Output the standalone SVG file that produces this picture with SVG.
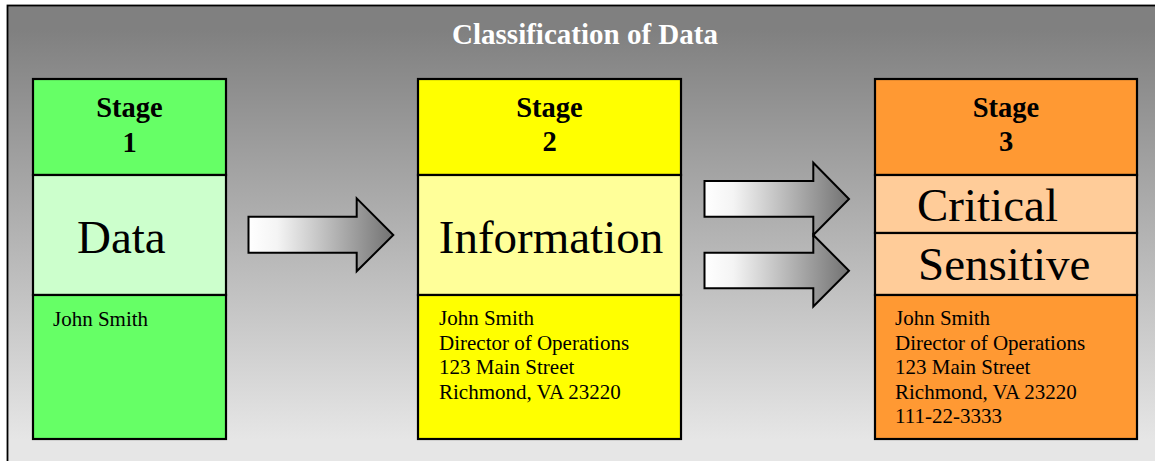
<svg xmlns="http://www.w3.org/2000/svg" width="1155" height="461" viewBox="0 0 1155 461">
<style>
.box{stroke:#000;stroke-width:2.2}
.stage{font-family:"Liberation Serif","Times New Roman",serif;font-weight:bold;font-size:28.5px;fill:#000;text-anchor:middle}
.big{font-family:"Liberation Serif","Times New Roman",serif;font-size:47px;fill:#000}
.small{font-family:"Liberation Serif","Times New Roman",serif;font-size:21px;fill:#000}
.title{font-family:"Liberation Serif","Times New Roman",serif;font-weight:bold;font-size:29px;fill:#fff;text-anchor:middle}
.arrow{fill:url(#arrowGrad);stroke:#000;stroke-width:2;stroke-linejoin:miter}
</style>
<defs>
<linearGradient id="bgGrad" gradientUnits="userSpaceOnUse" x1="0" y1="30" x2="0" y2="440">
<stop offset="0" stop-color="#808080"/>
<stop offset="1" stop-color="#e6e6e6"/>
</linearGradient>
<linearGradient id="arrowGrad" x1="0" y1="0" x2="1" y2="0">
<stop offset="0" stop-color="#ffffff"/>
<stop offset="0.2" stop-color="#f4f4f4"/>
<stop offset="1" stop-color="#727272"/>
</linearGradient>
</defs>
<rect x="0" y="0" width="1155" height="461" fill="#ffffff"/>
<rect id="frame" x="7.5" y="5.5" width="1160" height="470" fill="url(#bgGrad)" stroke="#000" stroke-width="1.8"/>
<g id="title">
<text class="title" x="585" y="44">Classification of Data</text>
</g>
<g id="stage1">
<rect class="box" x="33" y="79" width="193" height="96" fill="#66ff66"/>
<rect class="box" x="33" y="175" width="193" height="120" fill="#ccffcc"/>
<rect class="box" x="33" y="295" width="193" height="144" fill="#66ff66"/>
<text class="stage" x="129.5" y="117">Stage</text>
<text class="stage" x="129.5" y="151.5">1</text>
<text class="big" x="77" y="253">Data</text>
<text class="small" x="53" y="326">John Smith</text>
</g>
<g id="stage2">
<rect class="box" x="418" y="79" width="263" height="96" fill="#ffff00"/>
<rect class="box" x="418" y="175" width="263" height="120" fill="#ffff99"/>
<rect class="box" x="418" y="295" width="263" height="144" fill="#ffff00"/>
<text class="stage" x="549.5" y="117">Stage</text>
<text class="stage" x="549.5" y="151">2</text>
<text class="big" x="551" y="253" text-anchor="middle">Information</text>
<text class="small" x="439" y="325">John Smith</text>
<text class="small" x="439" y="349.5">Director of Operations</text>
<text class="small" x="439" y="374">123 Main Street</text>
<text class="small" x="439" y="398.5">Richmond, VA 23220</text>
</g>
<g id="stage3">
<rect class="box" x="875" y="79" width="262" height="96" fill="#ff9933"/>
<rect class="box" x="875" y="175" width="262" height="58" fill="#ffcc99"/>
<rect class="box" x="875" y="233" width="262" height="62" fill="#ffcc99"/>
<rect class="box" x="875" y="295" width="262" height="144" fill="#ff9933"/>
<text class="stage" x="1006" y="117">Stage</text>
<text class="stage" x="1006" y="151">3</text>
<text class="big" x="917" y="221">Critical</text>
<text class="big" x="918" y="280">Sensitive</text>
<text class="small" x="895" y="325">John Smith</text>
<text class="small" x="895" y="349.5">Director of Operations</text>
<text class="small" x="895" y="374">123 Main Street</text>
<text class="small" x="895" y="398.5">Richmond, VA 23220</text>
<text class="small" x="895" y="423">111-22-3333</text>
</g>
<g id="connectors">
<path class="arrow" d="M248.5,216.7 H356.7 V198.3 L393.3,235 L356.7,271.3 V252.7 H248.5 Z"/>
<path class="arrow" d="M704.5,181 H813.3 V162.7 L849,199 L813.3,235 V216.7 H704.5 Z"/>
<path class="arrow" d="M704.5,252.7 H813.3 V235 L849,270.7 L813.3,306.5 V288.3 H704.5 Z"/>
</g>
</svg>
